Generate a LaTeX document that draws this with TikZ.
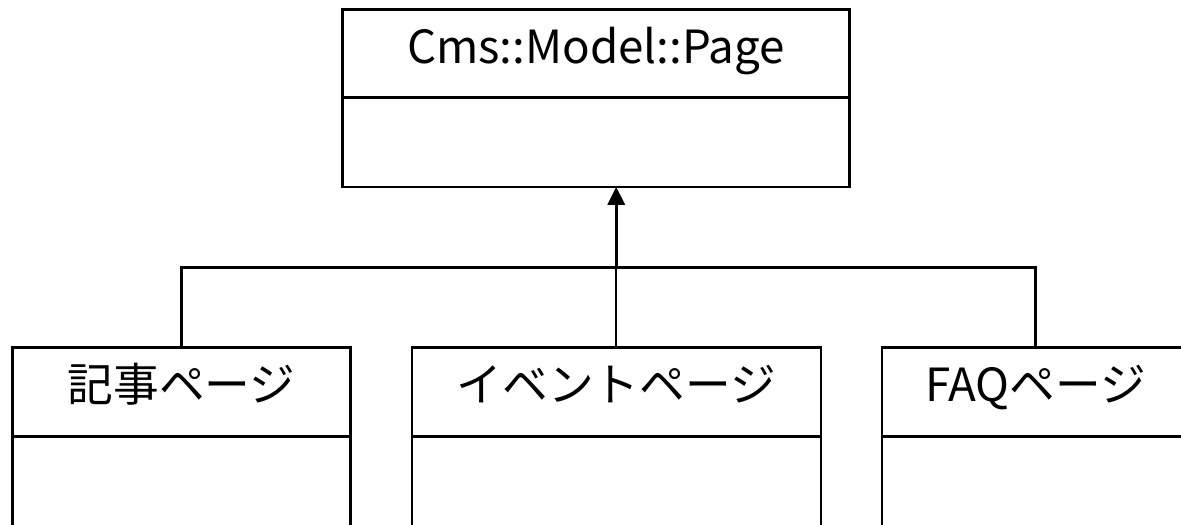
\documentclass[tikz,border=0pt]{standalone}
\usepackage{fontspec}
\newfontfamily\jpfont{Noto Sans CJK JP}
\usetikzlibrary{arrows.meta}
\usetikzlibrary{positioning}
\tikzstyle{classname} = [draw, rectangle, line width=0.7pt, inner sep=0pt,
minimum height=1.76cm, text height=0.8cm, text depth=0.4cm,
font=\jpfont\fontsize{26}{30}\selectfont]
\tikzstyle{classbody} = [draw, rectangle, line width=0.7pt, inner sep=0pt,
minimum height=1.76cm]
\tikzstyle{border} = [draw, line width=1.2pt]
\tikzstyle{line} = [draw, line width=1.4pt]
\tikzstyle{inherit} = [draw, -{Triangle[length=0.36cm,width=0.34cm]}, line width=1.8pt]

\begin{document}
\begin{tikzpicture}[auto]
	\path[use as bounding box, clip] (0,0) rectangle (23.62,10.48);
	%% Base class
	\node[classname, minimum width=10.12cm, minimum height=1.74cm] (page) at (11.92,9.41) {Cms::Model::Page};
	\node[classbody, minimum width=10.12cm, below=0pt of page] (page-body) {};
	%% Subclasses
	\node[classname, minimum width=6.74cm] (kiji) at (3.63,2.64) {記事ページ};
	\node[classbody, minimum width=6.74cm, below=0pt of kiji] (kiji-body) {};
	\node[classname, minimum width=8.16cm, right=1.22cm of kiji] (event) {イベントページ};
	\node[classbody, minimum width=8.16cm, below=0pt of event] (event-body) {};
	\node[classname, minimum width=6.12cm, right=1.22cm of event] (faq) {FAQページ};
	\node[classbody, minimum width=6.12cm, below=0pt of faq] (faq-body) {};
	\foreach \c in {page,kiji,event,faq}
		\path[border] (\c.north west) rectangle (\c-body.south east);
	%% Generalization
	\coordinate[above=1.6cm of event] (join);
	\path[line] (kiji.north) |- (join) -| (faq.north);
	\path[line] (event.north) -- (join);
	\path[inherit] (join) -- (join |- page-body.south);
\end{tikzpicture}
\end{document}
